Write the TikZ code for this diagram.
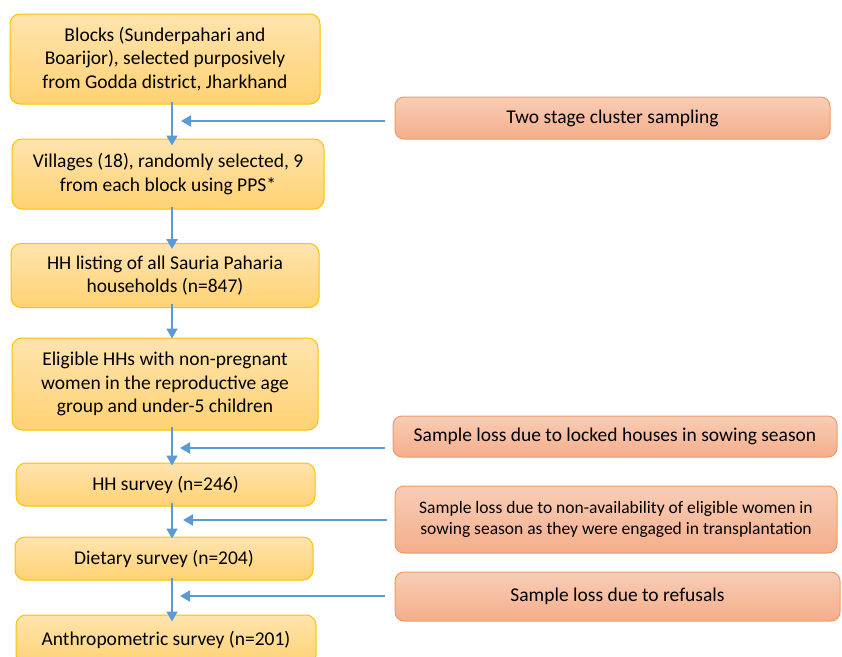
\documentclass[tikz,border=0pt]{standalone}
\usepackage{fontspec}
\setmainfont{Carlito}
\usetikzlibrary{arrows.meta}
\definecolor{ytop}{HTML}{FFE4AE}
\definecolor{ybot}{HTML}{FFD273}
\definecolor{yedge}{HTML}{FFC000}
\definecolor{otop}{HTML}{F8CDB6}
\definecolor{obot}{HTML}{F4AE8B}
\definecolor{oedge}{HTML}{F19A66}
\definecolor{arrblue}{HTML}{5B9BD5}
\tikzset{
  ybox/.style={draw=yedge, line width=1pt, rounded corners=10pt, top color=ytop, bottom color=ybot, align=center, inner sep=2pt, font=\fontsize{19.5}{23.5}\selectfont},
  obox/.style={draw=oedge, line width=1pt, rounded corners=9pt, top color=otop, bottom color=obot, align=center, inner sep=2pt, font=\fontsize{19.5}{23.5}\selectfont},
  arr/.style={draw=arrblue, line width=2pt, -{Triangle[length=10pt,width=11pt]}},
}
\begin{document}
\begin{tikzpicture}[x=1pt,y=-1pt]
\useasboundingbox (0,0) rectangle (842,656);
\fill[white] (0,0) rectangle (842,656);
% left chain
\node[ybox, minimum width=310pt, minimum height=90pt] (b1) at (165,59) {Blocks (Sunderpahari and\\Boarijor), selected purposively\\from Godda district, Jharkhand};
\node[ybox, minimum width=312pt, minimum height=70pt] (b2) at (168,174) {Villages (18), randomly selected, 9\\from each block using PPS*};
\node[ybox, minimum width=308pt, minimum height=64pt] (b3) at (165,275.5) {HH listing of all Sauria Paharia\\households (n=847)};
\node[ybox, minimum width=306pt, minimum height=92pt] (b4) at (165,384) {Eligible HHs with non-pregnant\\women in the reproductive age\\group and under-5 children};
\node[ybox, minimum width=299pt, minimum height=43pt] (b5) at (165.5,484.5) {HH survey (n=246)};
\node[ybox, minimum width=298pt, minimum height=43pt] (b6) at (164,558.5) {Dietary survey (n=204)};
\node[ybox, minimum width=300pt, minimum height=50pt, text depth=0pt] (b7) at (166,640) {\raisebox{4pt}{Anthropometric survey (n=201)}};
% right boxes
\node[obox, minimum width=435pt, minimum height=42pt] (r1) at (612.5,118) {Two stage cluster sampling};
\node[obox, minimum width=444pt, minimum height=41pt] (r2) at (615,436.5) {Sample loss due to locked houses in sowing season};
\node[obox, minimum width=442pt, minimum height=67pt, font=\fontsize{17.5}{21}\selectfont] (r3) at (616,519.5) {Sample loss due to non-availability of eligible women in\\sowing season as they were engaged in transplantation};
\node[obox, minimum width=445pt, minimum height=49pt] (r4) at (617.5,596.5) {Sample loss due to refusals};
% vertical arrow axis
\coordinate (ax) at (172,0);
\draw[arr] ([yshift=3pt]b1.south -| ax) -- ([yshift=-7pt]b2.north -| ax);
\draw[arr] ([yshift=3pt]b2.south -| ax) -- ([yshift=-6pt]b3.north -| ax);
\draw[arr] ([yshift=4pt]b3.south -| ax) -- ([yshift=-1pt]b4.north -| ax);
\draw[arr] ([yshift=4pt]b4.south -| ax) -- ([yshift=-3pt]b5.north -| ax);
\draw[arr] ([yshift=4pt]b5.south -| ax) -- ([yshift=-2pt]b6.north -| ax);
\draw[arr] ([yshift=3pt]b6.south -| ax) -- ([yshift=-7pt]b7.north -| ax);
% horizontal arrows
\coordinate (s1) at (385,121); \coordinate (e1) at (181,121);
\coordinate (s2) at (385,448); \coordinate (e2) at (180,448);
\coordinate (s3) at (387,520); \coordinate (e3) at (183,520);
\coordinate (s4) at (385,596); \coordinate (e4) at (180,596);
\draw[arr] (s1) -- (e1);
\draw[arr] (s2) -- (e2);
\draw[arr] (s3) -- (e3);
\draw[arr] (s4) -- (e4);
\end{tikzpicture}
\end{document}
